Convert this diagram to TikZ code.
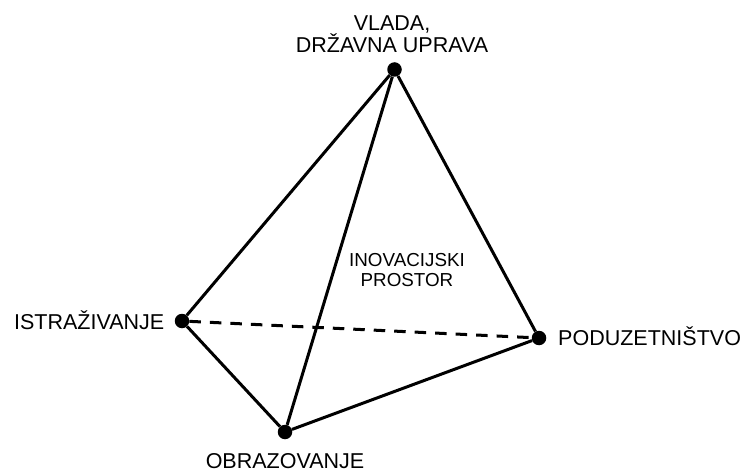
\documentclass[tikz,border=0pt]{standalone}
\usepackage{fontspec}
\setmainfont{Liberation Sans}
\usetikzlibrary{positioning}
\tikzstyle{vertex} = [circle, fill=black, inner sep=0pt, minimum size=14.5pt]
\tikzstyle{txt} = [inner sep=0pt, font=\fontsize{21.5}{22}\selectfont]
\tikzstyle{small} = [inner sep=0pt, align=center, font=\fontsize{18.8}{20}\selectfont]
\tikzstyle{edge} = [draw, line width=3pt]
\begin{document}
\begin{tikzpicture}[x=1pt, y=1pt]
	\useasboundingbox (0,0) rectangle (742,472);
	\node [vertex] (vlada) at (394.5,402.5) {};
	\node [vertex] (istr) at (182,151) {};
	\node [vertex] (poduz) at (539,134) {};
	\node [vertex] (obraz) at (285,40) {};
	
	\node [txt, align=center] (vladatxt) at (392,438) {VLADA,\\DRŽAVNA UPRAVA};
	\node [txt, anchor=base east] (istrtxt) at (164.5,143) {ISTRAŽIVANJE};
	\node [txt, anchor=base west] (poduztxt) at (558,127) {PODUZETNIŠTVO};
	\node [txt, anchor=base] (obraztxt) at (285,4) {OBRAZOVANJE};
	\node [small] (prostor) at (407,202) {INOVACIJSKI\\PROSTOR};
	
	\path [edge] (vlada) -- (istr);
	\path [edge] (vlada) -- (poduz);
	\path [edge] (vlada) -- (obraz);
	\path [edge] (istr) -- (obraz);
	\path [edge] (obraz) -- (poduz);
	\path [edge, dash pattern=on 11.5pt off 9pt] (istr) -- (poduz);
\end{tikzpicture}
\end{document}
